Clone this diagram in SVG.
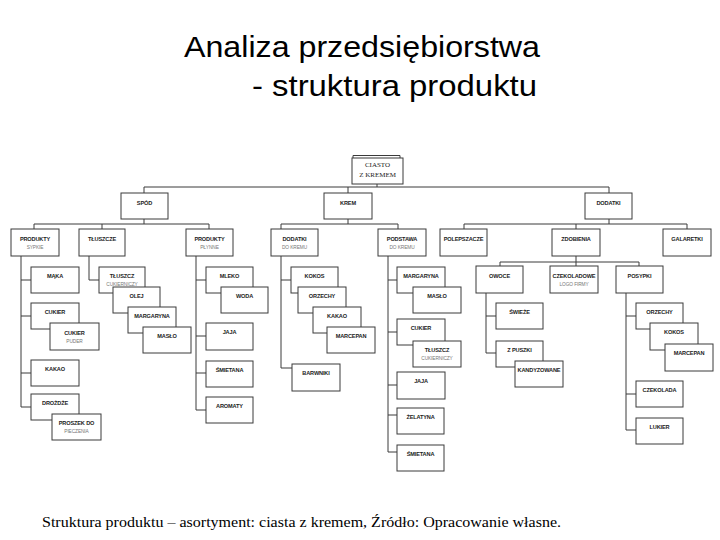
<svg xmlns="http://www.w3.org/2000/svg" width="720" height="540" viewBox="0 0 720 540">
<style>
.b{fill:#fff;stroke:#3a3a3a;stroke-width:1}
.c{fill:none;stroke:#3a3a3a;stroke-width:1}
.t{font-family:"Liberation Sans",Arial,sans-serif;font-size:5.6px;font-weight:bold;fill:#222;text-anchor:middle;letter-spacing:-0.15px}
.s{font-family:"Liberation Sans",Arial,sans-serif;font-size:4.8px;fill:#777;text-anchor:middle;letter-spacing:-0.1px}
.r{font-family:"Liberation Serif","Times New Roman",serif;font-size:7px;fill:#222;text-anchor:middle}
.h{font-family:"Liberation Sans",Arial,sans-serif;font-size:30px;fill:#000}
.cap{font-family:"Liberation Serif","Times New Roman",serif;font-size:14px;fill:#000}
</style>
<rect width="720" height="540" fill="#fff"/>
<text class="h" x="184" y="57" textLength="356" lengthAdjust="spacingAndGlyphs">Analiza przedsiębiorstwa</text>
<text class="h" x="252" y="96" textLength="285" lengthAdjust="spacingAndGlyphs">- struktura produktu</text>
<g id="connectors">
<path class="c" d="M377,184V187M144,187H609M144,187V193M348,187V193M609,187V193"/>
<path class="c" d="M144,219V224M34,224H209M34,224V229M102,224V229M209,224V229"/>
<path class="c" d="M348,219V224M281,224H398M281,224V229M398,224V229"/>
<path class="c" d="M609,219V224M464,224H687M464,224V229M576,224V229M687,224V229"/>
<path class="c" d="M576,256V266M500,262H639M500,262V266M639,262V266"/>
<path class="c" d="M21,256V407M21,280H31M21,316H31M21,373H31M21,407H31"/>
<path class="c" d="M89,256V280H99"/>
<path class="c" d="M196,256V410M196,280H206M196,336H206M196,373H206M196,410H206"/>
<path class="c" d="M281,256V368H292M281,280H291"/>
<path class="c" d="M388,256V452M388,280H397M388,332H397M388,385H397M388,415H397M388,452H397"/>
<path class="c" d="M486,293V353M486,316H496M486,353H496"/>
<path class="c" d="M626,293V430M626,316H636M626,394H636M626,430H636"/>
</g>
<g id="root"><path class="c" d="M353,158V155.5H400V158"/><rect class="b" x="352" y="158" width="51" height="26"/><text class="r" x="377.5" y="167">CIASTO</text><text class="r" x="377.5" y="177">Z KREMEM</text></g>
<g id="spod"><rect class="b" x="121" y="193" width="47" height="26"/><text class="t" x="144.5" y="204.5">SPÓD</text></g>
<g id="krem"><rect class="b" x="324" y="193" width="48" height="26"/><text class="t" x="348" y="204.5">KREM</text></g>
<g id="dodatki"><rect class="b" x="585" y="193" width="47" height="26"/><text class="t" x="608.5" y="204.5">DODATKI</text></g>
<g id="produkty-sypkie"><rect class="b" x="11" y="229" width="48" height="27"/><text class="t" x="35" y="241">PRODUKTY</text><text class="s" x="35" y="249">SYPKIE</text></g>
<g id="tluszcze"><rect class="b" x="79" y="229" width="46" height="27"/><text class="t" x="102" y="241">TŁUSZCZE</text></g>
<g id="produkty-plynne"><rect class="b" x="186" y="229" width="47" height="27"/><text class="t" x="209.5" y="241">PRODUKTY</text><text class="s" x="209.5" y="249">PŁYNNE</text></g>
<g id="dodatki-do-kremu"><rect class="b" x="271" y="229" width="47" height="27"/><text class="t" x="294.5" y="241">DODATKI</text><text class="s" x="294.5" y="249">DO KREMU</text></g>
<g id="podstawa-do-kremu"><rect class="b" x="378" y="229" width="48" height="27"/><text class="t" x="402" y="241">PODSTAWA</text><text class="s" x="402" y="249">DO KREMU</text></g>
<g id="polepszacze"><rect class="b" x="440" y="229" width="47" height="27"/><text class="t" x="463.5" y="241">POLEPSZACZE</text></g>
<g id="zdobienia"><rect class="b" x="552" y="229" width="48" height="27"/><text class="t" x="576" y="241">ZDOBIENIA</text></g>
<g id="galaretki"><rect class="b" x="663" y="229" width="48" height="27"/><text class="t" x="687" y="241">GALARETKI</text></g>
<g id="owoce"><rect class="b" x="476" y="266" width="47" height="27"/><text class="t" x="499.5" y="278">OWOCE</text></g>
<g id="czekoladowe"><rect class="b" x="550" y="266" width="48" height="27"/><text class="t" x="574" y="278">CZEKOLADOWE</text><text class="s" x="574" y="286">LOGO FIRMY</text></g>
<g id="posypki"><rect class="b" x="616" y="266" width="47" height="27"/><text class="t" x="639.5" y="278">POSYPKI</text></g>
<g id="maka"><rect class="b" x="31" y="267" width="48" height="26"/><text class="t" x="55" y="278">MĄKA</text></g>
<g id="cukier1"><rect class="b" x="31" y="303" width="48" height="26"/><text class="t" x="55" y="314">CUKIER</text></g>
<g id="cukier-puder"><rect class="b" x="50" y="323" width="49" height="27"/><text class="t" x="74.5" y="335">CUKIER</text><text class="s" x="74.5" y="343">PUDER</text></g>
<g id="kakao1"><rect class="b" x="31" y="360" width="48" height="26"/><text class="t" x="55" y="371">KAKAO</text></g>
<g id="drozdze"><rect class="b" x="31" y="394" width="48" height="26"/><text class="t" x="55" y="405">DROŻDŻE</text></g>
<g id="proszek"><rect class="b" x="52" y="414" width="49" height="26"/><text class="t" x="76.5" y="425">PROSZEK DO</text><text class="s" x="76.5" y="433">PIECZENIA</text></g>
<g id="tluszcz-cuk1"><rect class="b" x="99" y="267" width="46" height="26"/><text class="t" x="122" y="278">TŁUSZCZ</text><text class="s" x="122" y="286">CUKIERNICZY</text></g>
<g id="olej"><rect class="b" x="113" y="287" width="47" height="26"/><text class="t" x="136.5" y="298">OLEJ</text></g>
<g id="margaryna1"><rect class="b" x="128" y="307" width="48" height="26"/><text class="t" x="152" y="318">MARGARYNA</text></g>
<g id="maslo1"><rect class="b" x="143" y="327" width="48" height="26"/><text class="t" x="167" y="338">MASŁO</text></g>
<g id="mleko"><rect class="b" x="206" y="267" width="47" height="26"/><text class="t" x="229.5" y="278">MLEKO</text></g>
<g id="woda"><rect class="b" x="221" y="287" width="47" height="26"/><text class="t" x="244.5" y="298">WODA</text></g>
<g id="jaja1"><rect class="b" x="206" y="323" width="47" height="27"/><text class="t" x="229.5" y="334">JAJA</text></g>
<g id="smietana1"><rect class="b" x="206" y="361" width="47" height="26"/><text class="t" x="229.5" y="372">ŚMIETANA</text></g>
<g id="aromaty"><rect class="b" x="206" y="397" width="47" height="26"/><text class="t" x="229.5" y="408">AROMATY</text></g>
<g id="kokos1"><rect class="b" x="291" y="267" width="47" height="26"/><text class="t" x="314.5" y="278">KOKOS</text></g>
<g id="orzechy1"><rect class="b" x="298" y="287" width="48" height="26"/><text class="t" x="322" y="298">ORZECHY</text></g>
<g id="kakao2"><rect class="b" x="313" y="307" width="48" height="26"/><text class="t" x="337" y="318">KAKAO</text></g>
<g id="marcepan1"><rect class="b" x="327" y="327" width="48" height="26"/><text class="t" x="351" y="338">MARCEPAN</text></g>
<g id="barwniki"><rect class="b" x="292" y="364" width="48" height="27"/><text class="t" x="316" y="375">BARWNIKI</text></g>
<g id="margaryna2"><rect class="b" x="397" y="267" width="48" height="26"/><text class="t" x="421" y="278">MARGARYNA</text></g>
<g id="maslo2"><rect class="b" x="413" y="287" width="48" height="26"/><text class="t" x="437" y="298">MASŁO</text></g>
<g id="cukier2"><rect class="b" x="397" y="319" width="48" height="26"/><text class="t" x="421" y="330">CUKIER</text></g>
<g id="tluszcz-cuk2"><rect class="b" x="413" y="341" width="48" height="26"/><text class="t" x="437" y="352">TŁUSZCZ</text><text class="s" x="437" y="360">CUKIERNICZY</text></g>
<g id="jaja2"><rect class="b" x="397" y="372" width="48" height="27"/><text class="t" x="421" y="383">JAJA</text></g>
<g id="zelatyna"><rect class="b" x="397" y="408" width="47" height="26"/><text class="t" x="420.5" y="419">ŻELATYNA</text></g>
<g id="smietana2"><rect class="b" x="397" y="445" width="47" height="26"/><text class="t" x="420.5" y="456">ŚMIETANA</text></g>
<g id="swieze"><rect class="b" x="496" y="303" width="47" height="26"/><text class="t" x="519.5" y="314">ŚWIEŻE</text></g>
<g id="z-puszki"><rect class="b" x="496" y="341" width="47" height="26"/><text class="t" x="519.5" y="352">Z PUSZKI</text></g>
<g id="kandyzowane"><rect class="b" x="515" y="361" width="48" height="26"/><text class="t" x="539" y="372">KANDYZOWANE</text></g>
<g id="orzechy2"><rect class="b" x="636" y="303" width="47" height="26"/><text class="t" x="659.5" y="314">ORZECHY</text></g>
<g id="kokos2"><rect class="b" x="650" y="323" width="48" height="27"/><text class="t" x="674" y="334">KOKOS</text></g>
<g id="marcepan2"><rect class="b" x="665" y="344" width="48" height="27"/><text class="t" x="689" y="355">MARCEPAN</text></g>
<g id="czekolada"><rect class="b" x="636" y="381" width="47" height="26"/><text class="t" x="659.5" y="392">CZEKOLADA</text></g>
<g id="lukier"><rect class="b" x="636" y="418" width="47" height="26"/><text class="t" x="659.5" y="429">LUKIER</text></g>
<text class="cap" x="42" y="527" textLength="519" lengthAdjust="spacingAndGlyphs">Struktura produktu – asortyment: ciasta z kremem, Źródło: Opracowanie własne.</text>
</svg>
